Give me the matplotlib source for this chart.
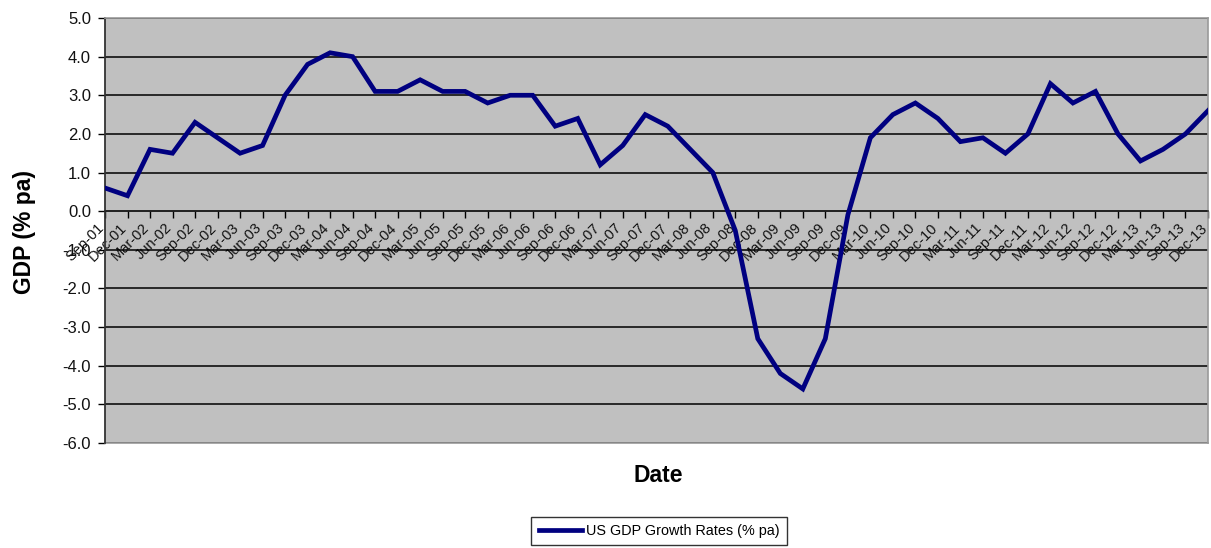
import matplotlib
matplotlib.use("Agg")
import matplotlib.pyplot as plt
from matplotlib.ticker import MultipleLocator, FormatStrFormatter

plt.rcParams['font.family'] = ['Liberation Sans', 'DejaVu Sans']

quarters = ["Sep-01", "Dec-01"] + [f"{m}-{y:02d}" for y in range(2, 14)
                                    for m in ("Mar", "Jun", "Sep", "Dec")]

gdp_growth = [
    0.6, 0.4,
    1.6, 1.5, 2.3, 1.9,
    1.5, 1.7, 3.0, 3.8,
    4.1, 4.0, 3.1, 3.1,
    3.4, 3.1, 3.1, 2.8,
    3.0, 3.0, 2.2, 2.4,
    1.2, 1.7, 2.5, 2.2,
    1.6, 1.0, -0.5, -3.3,
    -4.2, -4.6, -3.3, -0.1,
    1.9, 2.5, 2.8, 2.4,
    1.8, 1.9, 1.5, 2.0,
    3.3, 2.8, 3.1, 2.0,
    1.3, 1.6, 2.0, 2.6,
]

series_name = "US GDP Growth Rates (% pa)"

W, H = 1211, 548
fig = plt.figure(figsize=(W / 100, H / 100), dpi=100)
ax = fig.add_axes([105 / W, 1 - 443 / H, (1208 - 105) / W, (443 - 18) / H])
ax.set_facecolor('#C0C0C0')

x = list(range(len(quarters)))
ax.plot(x, gdp_growth, color='#000080', lw=3.4, solid_joinstyle='miter',
        label=series_name, zorder=3)

ax.set_xlim(0, len(quarters) - 1)
ax.set_ylim(-6, 5)
ax.yaxis.set_major_locator(MultipleLocator(1))
ax.yaxis.set_major_formatter(FormatStrFormatter('%.1f'))
ax.grid(axis='y', color='black', lw=1.1, zorder=1)
ax.set_axisbelow(True)

# category axis crosses the value axis at zero
ax.spines['bottom'].set_position(('data', 0))
ax.spines['bottom'].set_color('#222222')
ax.spines['bottom'].set_linewidth(1.1)
ax.spines['left'].set_color('#333333')
ax.spines['left'].set_linewidth(1.3)
for s in ('top', 'right'):
    ax.spines[s].set_color('#9a9a9a')
    ax.spines[s].set_linewidth(1.2)
# frame edge along the bottom of the plot area
ax.axhline(-6, color='#9a9a9a', lw=1.2, zorder=2, clip_on=False)

ax.set_xticks(x)
ax.set_xticklabels(quarters, rotation=45, ha='right', va='baseline',
                   rotation_mode='anchor', fontsize=10.5, color='#111111')
ax.tick_params(axis='x', direction='out', length=5, width=1, pad=7.5)
ax.tick_params(axis='y', direction='out', length=5, width=1, labelsize=12,
               labelcolor='#111111', pad=5)

fig.text(25 / W, 1 - 232 / H, "GDP (% pa)", fontsize=16.5, fontweight='bold',
         rotation=90, ha='center', va='center')
fig.text(658 / W, 1 - 476 / H, "Date", fontsize=16.5, fontweight='bold',
         ha='center', va='center')

leg = fig.legend(loc='upper center', bbox_to_anchor=(659 / W, 1 - 517 / H),
                 fontsize=10.4, frameon=True, fancybox=False, handlelength=3.0,
                 handletextpad=0.25, borderpad=0.5, borderaxespad=0)
leg.get_frame().set_edgecolor('black')
leg.get_frame().set_linewidth(1.0)

fig.savefig('out.png', dpi=100)
